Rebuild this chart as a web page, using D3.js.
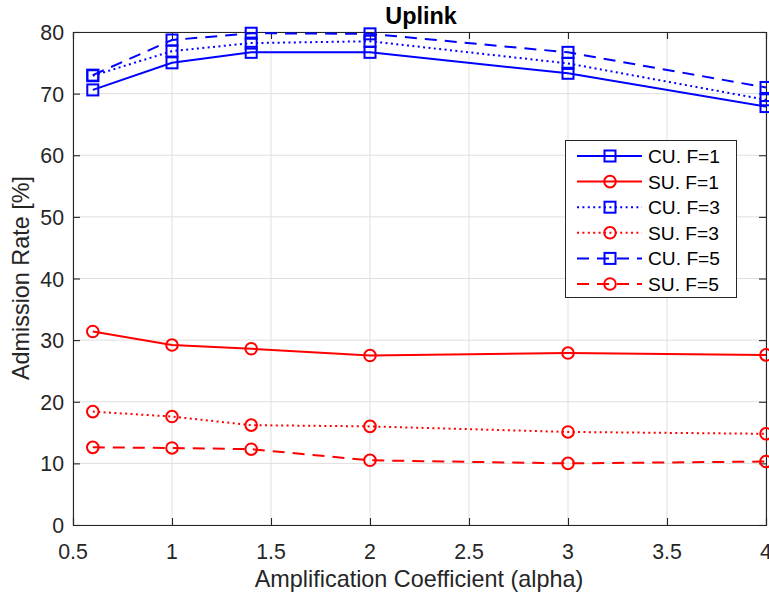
<!DOCTYPE html>
<html>
<head>
<meta charset="utf-8">
<script src="https://cdn.jsdelivr.net/npm/d3@7"></script>
<style>
  html, body { margin: 0; padding: 0; background: #fff; }
  svg { display: block; font-family: "Liberation Sans", Arial, Helvetica, sans-serif; }
</style>
</head>
<body>
<svg id="chart" width="769" height="598"></svg>
<script>
// ---- data ----
const alpha = [0.6, 1, 1.4, 2, 3, 4];
const cuF1 = [70.6, 75.0, 76.7, 76.7, 73.3, 67.9];
const suF1 = [31.4, 29.2, 28.6, 27.5, 27.9, 27.6];
const cuF3 = [72.9, 76.9, 78.2, 78.5, 74.9, 69.0];
const suF3 = [18.4, 17.6, 16.2, 16.0, 15.1, 14.8];
const cuF5 = [73.0, 78.7, 79.8, 79.7, 76.7, 71.0];
const suF5 = [12.6, 12.5, 12.3, 10.5, 10.0, 10.3];
const xTicks = [0.5, 1, 1.5, 2, 2.5, 3, 3.5, 4];
const yTicks = [0, 10, 20, 30, 40, 50, 60, 70, 80];
const seriesNames = ["CU. F=1", "SU. F=1", "CU. F=3", "SU. F=3", "CU. F=5", "SU. F=5"];
const titleText = "Uplink";
const xLabel = "Amplification Coefficient (alpha)";
const yLabel = "Admission Rate [%]";

// styles per series
const styles = [
  {data: cuF1, color: "#0000ff", marker: "square", dash: null},
  {data: suF1, color: "#ff0000", marker: "circle", dash: null},
  {data: cuF3, color: "#0000ff", marker: "square", dash: "2,3.4"},
  {data: suF3, color: "#ff0000", marker: "circle", dash: "2,3.4"},
  {data: cuF5, color: "#0000ff", marker: "square", dash: "12,8"},
  {data: suF5, color: "#ff0000", marker: "circle", dash: "12,8"}
];

const svg = d3.select("#chart");
const L = 73, R = 766, T = 32, B = 525;
const x = d3.scaleLinear().domain([0.5, 4]).range([L, R]);
const y = d3.scaleLinear().domain([0, 80]).range([B, T]);
const axisColor = "#262626";
const tickFont = 21.3, labelFont = 23.4, legendFont = 19.2;

// grid
const g = svg.append("g");
g.selectAll(".gx").data(xTicks).enter().append("line")
  .attr("x1", d => x(d)).attr("x2", d => x(d)).attr("y1", T).attr("y2", B)
  .attr("stroke", "#dfdfdf").attr("stroke-width", 1);
g.selectAll(".gy").data(yTicks).enter().append("line")
  .attr("y1", d => y(d)).attr("y2", d => y(d)).attr("x1", L).attr("x2", R)
  .attr("stroke", "#dfdfdf").attr("stroke-width", 1);

// axes (ticks inward, box)
const xAxisB = d3.axisBottom(x).tickValues(xTicks).tickSize(-7).tickFormat("");
const xAxisT = d3.axisTop(x).tickValues(xTicks).tickSize(-7).tickFormat("");
const yAxisL = d3.axisLeft(y).tickValues(yTicks).tickSize(-7).tickFormat("");
const yAxisR = d3.axisRight(y).tickValues(yTicks).tickSize(-7).tickFormat("");
[[xAxisB, `translate(0,${B})`], [xAxisT, `translate(0,${T})`],
 [yAxisL, `translate(${L},0)`], [yAxisR, `translate(${R},0)`]].forEach(([ax, tr]) => {
  const a = svg.append("g").attr("transform", tr).call(ax);
  a.selectAll("path").attr("stroke", axisColor).attr("stroke-width", 1.1);
  a.selectAll("line").attr("stroke", axisColor).attr("stroke-width", 1.1);
});

// tick labels
svg.selectAll(".xt").data(xTicks).enter().append("text")
  .attr("x", d => x(d)).attr("y", 559)
  .attr("text-anchor", "middle").attr("font-size", tickFont).attr("fill", axisColor)
  .text(d => d);
svg.selectAll(".yt").data(yTicks).enter().append("text")
  .attr("x", 64).attr("y", d => y(d) + 8)
  .attr("text-anchor", "end").attr("font-size", tickFont).attr("fill", axisColor)
  .text(d => d);

// labels & title
svg.append("text").attr("x", 419).attr("y", 587).attr("text-anchor", "middle")
  .attr("font-size", labelFont).attr("fill", axisColor).text(xLabel);
svg.append("text").attr("transform", "translate(29,278) rotate(-90)").attr("text-anchor", "middle")
  .attr("font-size", labelFont).attr("fill", axisColor).text(yLabel);
svg.append("text").attr("x", 421).attr("y", 24).attr("text-anchor", "middle")
  .attr("font-size", labelFont).attr("font-weight", "bold").attr("fill", "#000").text(titleText);

// markers
function drawMarker(sel, type, cx, cy, color) {
  if (type === "square") {
    sel.append("rect").attr("x", cx - 5.5).attr("y", cy - 5.5).attr("width", 11).attr("height", 11)
      .attr("fill", "none").attr("stroke", color).attr("stroke-width", 2);
  } else {
    sel.append("circle").attr("cx", cx).attr("cy", cy).attr("r", 5.8)
      .attr("fill", "none").attr("stroke", color).attr("stroke-width", 2);
  }
}

// lines
const line = d3.line().x((d, i) => x(alpha[i])).y(d => y(d));
styles.forEach(s => {
  const gs = svg.append("g");
  gs.append("path").attr("d", line(s.data)).attr("fill", "none")
    .attr("stroke", s.color).attr("stroke-width", 2)
    .attr("stroke-dasharray", s.dash);
  s.data.forEach((v, i) => drawMarker(gs, s.marker, x(alpha[i]), y(v), s.color));
});

// legend
const lg = svg.append("g");
lg.append("rect").attr("x", 565.5).attr("y", 140.5).attr("width", 171).attr("height", 157)
  .attr("fill", "#fff").attr("stroke", axisColor).attr("stroke-width", 1);
styles.forEach((s, i) => {
  const cy = 156 + i * 25.6;
  lg.append("line").attr("x1", 577).attr("x2", 642).attr("y1", cy).attr("y2", cy)
    .attr("stroke", s.color).attr("stroke-width", 2).attr("stroke-dasharray", s.dash);
  drawMarker(lg, s.marker, 610, cy, s.color);
  lg.append("text").attr("x", 648).attr("y", cy + 7).attr("font-size", legendFont)
    .attr("fill", "#000").text(seriesNames[i]);
});
</script>
</body>
</html>
